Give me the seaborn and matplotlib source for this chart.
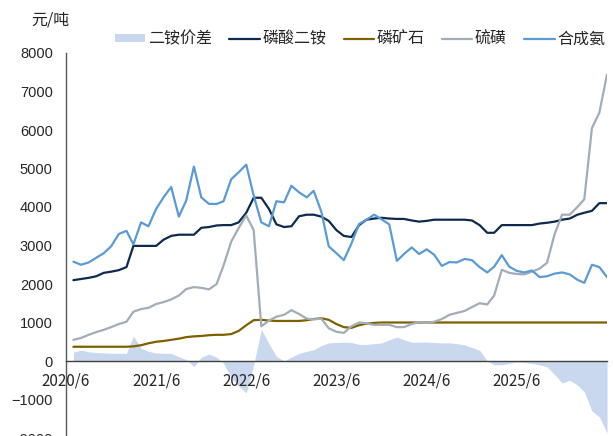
import pandas as pd
import numpy as np
import matplotlib
matplotlib.use("Agg")
import matplotlib.pyplot as plt
import seaborn as sns
from matplotlib.patches import Patch

# ---------------------------
# Data (monthly, 2020/7 - 2026/6), 元/吨
# ---------------------------
dates = pd.date_range("2020-07-01", "2026-06-01", freq="MS")

# 二铵价差
spread = [230, 280, 240, 220, 210, 200, 200, 200, 650, 330, 250, 210,
          200, 200, 110, 40, -150, 100, 180, 100, -60, -430, -650, -830,
          -100, 820, 450, 120, 0, 100, 200, 250, 290, 400, 470, 480,
          490, 480, 430, 430, 450, 470, 550, 620, 550, 490, 490, 490,
          480, 470, 470, 450, 420, 350, 280, 0, -100, -100, -60, -30,
          -40, -60, -100, -150, -350, -570, -500, -620, -800, -1300, -1450, -1870]

# 磷酸二铵
dap = [2100, 2130, 2160, 2200, 2290, 2320, 2360, 2440, 2990, 2990, 2990, 2990,
       3150, 3250, 3280, 3280, 3280, 3460, 3480, 3520, 3530, 3530, 3600, 3850,
       4240, 4240, 3950, 3550, 3480, 3500, 3760, 3800, 3800, 3750, 3640, 3400,
       3250, 3220, 3530, 3670, 3700, 3720, 3700, 3690, 3690, 3650, 3620, 3640,
       3670, 3670, 3670, 3670, 3670, 3650, 3530, 3330, 3330, 3530, 3530, 3530,
       3530, 3530, 3570, 3590, 3620, 3670, 3700, 3800, 3850, 3900, 4100, 4100]

# 磷矿石
rock = [370, 370, 370, 370, 370, 370, 370, 370, 380, 410, 460, 500,
        520, 550, 580, 620, 640, 650, 670, 680, 680, 700, 780, 930,
        1060, 1070, 1050, 1040, 1040, 1040, 1040, 1060, 1090, 1110, 1070, 960,
        880, 860, 930, 970, 990, 1000, 1000, 1000, 1000, 1000, 1000, 1000,
        1000, 1000, 1000, 1000, 1000, 1000, 1000, 1000, 1000, 1000, 1000, 1000,
        1000, 1000, 1000, 1000, 1000, 1000, 1000, 1000, 1000, 1000, 1000, 1000]

# 硫磺
sulfur = [550, 600, 680, 750, 810, 880, 960, 1020, 1280, 1350, 1380, 1480,
          1530, 1600, 1700, 1870, 1920, 1900, 1860, 2000, 2480, 3100, 3450, 3780,
          3400, 900, 1050, 1150, 1200, 1320, 1220, 1100, 1080, 1100, 850, 760,
          730, 900, 1000, 980, 940, 940, 940, 880, 880, 960, 1010, 990,
          1020, 1090, 1200, 1250, 1300, 1400, 1500, 1470, 1700, 2370, 2290, 2260,
          2250, 2320, 2400, 2550, 3300, 3800, 3800, 4000, 4200, 6050, 6450, 7440]

# 合成氨
ammonia = [2580, 2500, 2560, 2680, 2800, 2980, 3300, 3380, 3030, 3600, 3500, 3950,
           4250, 4520, 3750, 4170, 5050, 4250, 4080, 4080, 4150, 4720, 4900, 5100,
           4300, 3600, 3500, 4150, 4120, 4550, 4380, 4250, 4420, 3880, 2980, 2800,
           2620, 3050, 3560, 3670, 3800, 3680, 3550, 2600, 2780, 2950, 2780, 2900,
           2760, 2470, 2570, 2560, 2650, 2620, 2440, 2300, 2450, 2750, 2450, 2340,
           2300, 2350, 2180, 2200, 2270, 2300, 2250, 2110, 2030, 2500, 2440, 2180]

tick_dates = pd.to_datetime(["2020-06-01", "2021-06-01", "2022-06-01",
                             "2023-06-01", "2024-06-01", "2025-06-01"])
tick_labels = ["2020/6", "2021/6", "2022/6", "2023/6", "2024/6", "2025/6"]
y_ticks = [-2000, -1000, 0, 1000, 2000, 3000, 4000, 5000, 6000, 7000, 8000]

colors = {
    "二铵价差": "#c9d7ef",
    "磷酸二铵": "#0e2a4e",
    "磷矿石": "#7f6000",
    "硫磺": "#a2adb9",
    "合成氨": "#5b9bd5",
}

# ---------------------------
# Plot
# ---------------------------
sns.set_style("white")
plt.rcParams["font.family"] = ["Noto Sans CJK SC", "DejaVu Sans"]

fig = plt.figure(figsize=(6.13, 4.36), dpi=100)
ax = fig.add_axes([66 / 613, -2 / 436, 541 / 613, 385 / 436])
ax.set_axisbelow(False)

ax.fill_between(dates, 0, spread, color=colors["二铵价差"], lw=0, zorder=1)

series = [("磷酸二铵", dap), ("磷矿石", rock), ("硫磺", sulfur), ("合成氨", ammonia)]
for name, vals in series:
    df = pd.DataFrame({"date": dates, "value": vals})
    sns.lineplot(data=df, x="date", y="value", ax=ax, color=colors[name],
                 lw=1.6, legend=False, zorder=3)

ax.set_xlim(pd.Timestamp("2020-06-01"), pd.Timestamp("2026-06-01"))
ax.set_ylim(-2000, 8000)
ax.set_xlabel("")
ax.set_ylabel("")

for s in ["top", "right"]:
    ax.spines[s].set_visible(False)
ax.spines["bottom"].set_position(("data", 0))
ax.spines["bottom"].set_color("#404040")
ax.spines["left"].set_color("#595959")
ax.spines["bottom"].set_linewidth(1.0)
ax.spines["left"].set_linewidth(1.0)

ax.set_xticks(tick_dates)
ax.set_xticklabels(tick_labels, fontsize=11)
ax.set_yticks(y_ticks)
ax.set_yticklabels([f"{v}".replace("-", "\u2212") for v in y_ticks],
                   fontsize=10.5, family="Liberation Sans")
ax.tick_params(axis="x", direction="in", length=4, width=1, color="#404040", pad=8)
ax.tick_params(axis="y", direction="in", length=3, width=1, color="#595959", pad=9.5)
ax.grid(False)

handles = [Patch(facecolor=colors["二铵价差"], edgecolor="none", label="二铵价差")]
handles += [plt.Line2D([], [], color=colors[n], lw=1.6, label=n) for n, _ in series]
fig.legend(handles=handles, loc="center left", bbox_to_anchor=(115 / 613, 1 - 39 / 436),
           ncol=5, frameon=False, fontsize=11.5, handlelength=1.9, handleheight=0.45,
           handletextpad=0.15, columnspacing=1.1, borderpad=0, borderaxespad=0)

fig.text(50 / 613, 1 - 20 / 436, "元/吨", ha="center", va="center", fontsize=11.5)

fig.savefig("out.png", dpi=100)
